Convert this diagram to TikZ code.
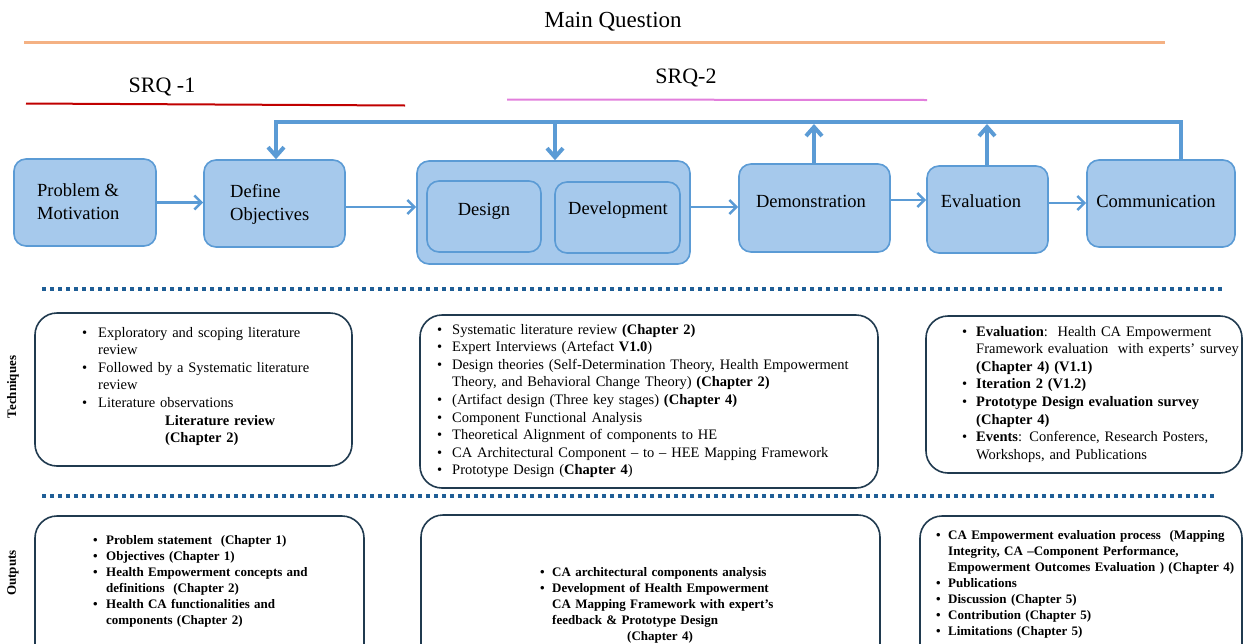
\documentclass[tikz,border=0pt]{standalone}
\usepackage{fontspec}
\setmainfont{Liberation Serif}
\usetikzlibrary{arrows.meta}

\definecolor{boxfill}{HTML}{A6C9EC}
\definecolor{boxline}{HTML}{5B9BD5}
\definecolor{flow}{HTML}{5B9BD5}
\definecolor{sepline}{HTML}{1F5E96}
\definecolor{panelline}{HTML}{203A4F}
\definecolor{mainline}{HTML}{F4B183}
\definecolor{srqone}{HTML}{C00000}
\definecolor{srqtwo}{HTML}{E27FDC}

% bulleted paragraph with hanging indent
\newcommand\bitem[2]{\noindent\hangindent=#1\hangafter=1\makebox[#1][l]{\textbullet}#2\par}

\begin{document}
\hyphenpenalty=10000
\begin{tikzpicture}[x=1pt,y=-1pt,
  stage/.style={draw=boxline, fill=boxfill, line width=1.6pt, rounded corners=12pt, inner sep=0},
  stagetext/.style={font=\fontsize{18.5}{23}\selectfont, align=left, inner sep=0},
  flowarrow/.style={draw=flow, line width=2.6pt, -{Straight Barb[length=7pt,width=14pt]}},
  feedback/.style={draw=flow, line width=4pt, line join=miter},
  fbtip/.style={-{Straight Barb[length=9pt,width=16pt]}},
  panelbox/.style={draw=panelline, line width=1.6pt, rounded corners=22pt, fill=white, inner sep=0},
  techtext/.style={font=\fontsize{14.5}{17.6}\selectfont, inner sep=0, anchor=base west, text width=#1},
  outtext/.style={font=\bfseries\fontsize{13}{16}\selectfont, inner sep=0, anchor=base west, text width=#1},
  sidelabel/.style={font=\bfseries\fontsize{13}{15}\selectfont, rotate=90, inner sep=0},
  separator/.style={draw=sepline, line width=3.6pt, dash pattern=on 3.6pt off 4.4pt},
]
\useasboundingbox (0,0) rectangle (1244,643);
\clip (0,0) rectangle (1244,643);

% research questions
\node[font=\fontsize{23}{28}\selectfont] (mq) at (613,22) {Main Question};
\draw[mainline, line width=3pt] (24,42) -- (1165,42);
\node[font=\fontsize{22}{26}\selectfont] (srq1) at (162,87) {SRQ -1};
\draw[srqone, line width=2pt] (26,103.5) -- (405,105.5);
\node[font=\fontsize{22}{26}\selectfont] (srq2) at (686,78) {SRQ-2};
\draw[srqtwo, line width=2pt] (507,99.5) -- (927,100);

% process stages
\node[stage, minimum width=142pt, minimum height=87pt] (pm) at (85,202.5) {};
\node[stagetext, anchor=west] (pmt) at (37,202) {Problem \&\\Motivation};
\node[stage, minimum width=141pt, minimum height=87pt] (def) at (274.5,203.5) {};
\node[stagetext, anchor=west] (deft) at (230,204) {Define\\Objectives};
\node[stage, minimum width=273pt, minimum height=103pt] (dd) at (553.5,212.5) {};
\node[stage, minimum width=114pt, minimum height=71pt] (des) at (484,216.5) {};
\node[stagetext] (dest) at (484,211) {Design};
\node[stage, minimum width=125pt, minimum height=71pt] (dev) at (617.5,217.5) {};
\node[stagetext] (devt) at (618,210) {Development};
\node[stage, minimum width=151pt, minimum height=88pt] (demo) at (814.5,208) {};
\node[stagetext] (demot) at (811,201) {Demonstration};
\node[stage, minimum width=121pt, minimum height=87pt] (eval) at (987.5,209.5) {};
\node[stagetext] (evalt) at (981,201) {Evaluation};
\node[stage, minimum width=148pt, minimum height=87pt] (comm) at (1161,203.5) {};
\node[stagetext] (commt) at (1156,201) {Communication};

% forward flow
\draw[flowarrow] (pm.east) -- (pm.east -| def.west);
\draw[flowarrow] ([yshift=-3.5pt]def.east) -- ([yshift=-3.5pt]def.east -| dd.west);
\draw[flowarrow] ([yshift=1pt]demo.west -| dd.east) -- ([yshift=1pt]demo.west);
\draw[flowarrow] ([yshift=8pt]demo.east) -- ([yshift=8pt]demo.east -| eval.west);
\draw[flowarrow] ([yshift=6.5pt]eval.east) -- ([yshift=6.5pt]eval.east -| comm.west);

% iteration feedback
\coordinate (fbL) at (276,122);
\coordinate (fbR) at (1181,122);
\coordinate (fbD) at (555,122);
\coordinate (fbM) at (814,122);
\coordinate (fbE) at (987,122);
\draw[feedback, fbtip] (fbR |- comm.north) -- (fbR) -- (fbL) -- (fbL |- def.north);
\draw[feedback, fbtip] (fbD) -- (fbD |- dd.north);
\draw[feedback, fbtip] (fbM |- demo.north) -- ([yshift=-2pt]fbM);
\draw[feedback, fbtip] (fbE |- eval.north) -- ([yshift=-2pt]fbE);

% separators
\coordinate (s1a) at (42,289);
\coordinate (s1b) at (1222,289);
\coordinate (s2a) at (42,496);
\coordinate (s2b) at (1215,496);
\draw[separator] (s1a) -- (s1b);
\draw[separator] (s2a) -- (s2b);

% row labels
\node[sidelabel] (techlab) at (13,387) {Techniques};
\node[sidelabel] (outlab) at (13,573) {Outputs};

% techniques
\node[panelbox, minimum width=317pt, minimum height=153pt] (t1) at (193.5,389.5) {};
\node[techtext=260pt] (t1t) at (82,337) {%
\bitem{16pt}{Exploratory and scoping literature\newline review}%
\bitem{16pt}{Followed by a Systematic literature\newline review}%
\bitem{16pt}{Literature observations}%
\noindent\hspace*{83pt}\textbf{Literature review}\newline\hspace*{83pt}\textbf{(Chapter 2)}};

\node[panelbox, minimum width=458pt, minimum height=173pt] (t2) at (649,401.5) {};
\node[techtext=430pt] (t2t) at (437,334) {%
\bitem{15pt}{Systematic literature review \textbf{(Chapter 2)}}%
\bitem{15pt}{Expert Interviews (Artefact \textbf{V1.0})}%
\bitem{15pt}{Design theories (Self-Determination Theory, Health Empowerment\newline Theory, and Behavioral Change Theory) \textbf{(Chapter 2)}}%
\bitem{15pt}{(Artifact design (Three key stages) \textbf{(Chapter 4)}}%
\bitem{15pt}{Component Functional Analysis}%
\bitem{15pt}{Theoretical Alignment of components to HE}%
\bitem{15pt}{CA Architectural Component -- to -- HEE Mapping Framework}%
\bitem{15pt}{Prototype Design (\textbf{Chapter 4})}};

\node[panelbox, minimum width=316pt, minimum height=157pt] (t3) at (1084,394.5) {};
\node[techtext=320pt] (t3t) at (962,336) {%
\bitem{14pt}{\textbf{Evaluation}:\ \ Health CA Empowerment\newline Framework evaluation\ \ with experts’ survey\newline\textbf{(Chapter 4) (V1.1)}}%
\bitem{14pt}{\textbf{Iteration 2 (V1.2)}}%
\bitem{14pt}{\textbf{Prototype Design evaluation survey}\newline\textbf{(Chapter 4)}}%
\bitem{14pt}{\textbf{Events}: Conference, Research Posters,\newline Workshops, and Publications}};

% outputs
\node[panelbox, minimum width=329pt, minimum height=154pt] (o1) at (199.5,593) {};
\node[outtext=250pt] (o1t) at (93,544.5) {%
\bitem{13pt}{Problem statement\ \ (Chapter 1)}%
\bitem{13pt}{Objectives (Chapter 1)}%
\bitem{13pt}{Health Empowerment concepts and\newline definitions\ \ (Chapter 2)}%
\bitem{13pt}{Health CA functionalities and\newline components (Chapter 2)}};

\node[panelbox, minimum width=459pt, minimum height=155pt] (o2) at (650.5,592.5) {};
\node[outtext=300pt] (o2t) at (540,576.5) {%
\bitem{12pt}{CA architectural components analysis}%
\bitem{12pt}{Development of Health Empowerment\newline CA Mapping Framework with expert's\newline feedback \& Prototype Design}%
\noindent\hspace*{87pt}(Chapter 4)};

\node[panelbox, minimum width=322pt, minimum height=154pt] (o3) at (1081,593) {};
\node[outtext=320pt] (o3t) at (936,539.5) {%
\bitem{12pt}{CA Empowerment evaluation process\ \ (Mapping\newline Integrity, CA --Component Performance,\newline Empowerment Outcomes Evaluation ) (Chapter 4)}%
\bitem{12pt}{Publications}%
\bitem{12pt}{Discussion (Chapter 5)}%
\bitem{12pt}{Contribution (Chapter 5)}%
\bitem{12pt}{Limitations (Chapter 5)}};
\end{tikzpicture}
\end{document}
